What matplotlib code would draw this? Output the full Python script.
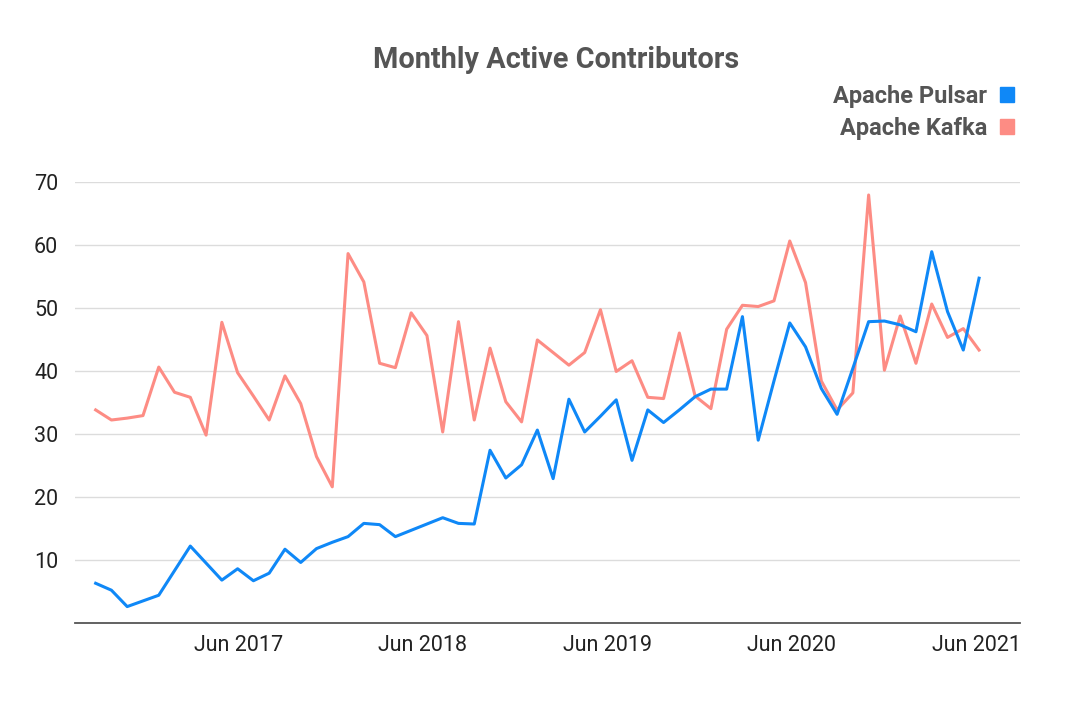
import matplotlib
matplotlib.use("Agg")
import matplotlib.pyplot as plt
import matplotlib.dates as mdates
from matplotlib.patches import Patch
import pandas as pd

plt.rcParams['font.family'] = ['Roboto', 'DejaVu Sans']

# 57 samples between first and last data point
dates = pd.date_range("2016-08-22", "2021-06-07", periods=57)

pulsar = [6.3, 5.2, 2.6, 3.5, 4.4, 8.3, 12.2, 9.5, 6.8, 8.6,
          6.7, 7.9, 11.7, 9.6, 11.8, 12.8, 13.7, 15.8, 15.6, 13.7,
          14.7, 15.7, 16.7, 15.8, 15.7, 27.4, 23.0, 25.1, 30.6, 22.9,
          35.5, 30.3, 32.8, 35.4, 25.8, 33.8, 31.8, 33.8, 35.9, 37.1,
          37.1, 48.6, 29.0, 38.4, 47.6, 43.8, 37.2, 33.1, 40.4, 47.8,
          47.9, 47.3, 46.2, 58.9, 49.4, 43.3, 54.7]

kafka = [33.8, 32.2, 32.5, 32.9, 40.6, 36.6, 35.8, 29.8, 47.7, 39.7,
         36.0, 32.2, 39.2, 34.8, 26.4, 21.6, 58.6, 54.1, 41.2, 40.5,
         49.2, 45.6, 30.3, 47.8, 32.2, 43.6, 35.1, 31.9, 44.9, 42.9,
         40.9, 42.9, 49.7, 39.9, 41.6, 35.8, 35.6, 46.0, 36.0, 34.0,
         46.6, 50.4, 50.2, 51.1, 60.6, 54.0, 38.4, 33.8, 36.5, 67.9,
         40.1, 48.7, 41.2, 50.6, 45.3, 46.7, 43.3]

pulsar_color = '#0f88f7'
kafka_color = '#fd8c84'

fig = plt.figure(figsize=(10.8, 7.11), dpi=100)
ax = fig.add_axes([0.0694, 0.1238, 0.875, 0.6206])

ax.plot(dates, pulsar, color=pulsar_color, lw=2.2, zorder=3)
ax.plot(dates, kafka, color=kafka_color, lw=2.2, zorder=2)

ax.set_ylim(0, 70)
ax.set_yticks([10, 20, 30, 40, 50, 60, 70])
ax.set_xlim(pd.Timestamp("2016-07-12"), pd.Timestamp("2021-08-27"))
ax.xaxis.set_major_locator(mdates.MonthLocator(bymonth=6))
ax.xaxis.set_major_formatter(mdates.DateFormatter('%b %Y'))

ax.grid(axis='y', color='#dcdcdc', lw=1)
ax.set_axisbelow(True)
for s in ['top', 'right', 'left']:
    ax.spines[s].set_visible(False)
ax.spines['bottom'].set_color('#555555')
ax.spines['bottom'].set_linewidth(1.3)
ax.tick_params(axis='both', length=0, labelsize=15.5, labelcolor='#222222')
ax.tick_params(axis='x', pad=9)
ax.tick_params(axis='y', pad=12)

fig.text(0.515, 0.915, "Monthly Active Contributors", ha='center', va='center',
         fontsize=20.8, fontweight='bold', color='#555555')

handles = [Patch(color=pulsar_color, label='Apache Pulsar'),
           Patch(color=kafka_color, label='Apache Kafka')]
fig.legend(handles=handles, loc='upper right', bbox_to_anchor=(0.959, 0.91),
           frameon=False, markerfirst=False, handlelength=0.6, handleheight=0.6,
           handletextpad=0.55, labelspacing=0.38, labelcolor='#555555',
           prop={'weight': 'bold', 'size': 17})

fig.savefig('out.png', dpi=100, facecolor='white')
